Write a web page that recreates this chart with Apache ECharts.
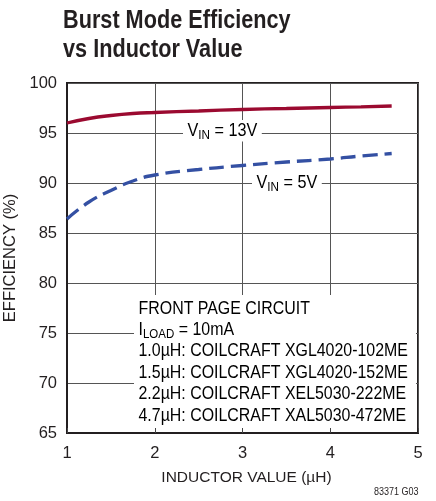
<!DOCTYPE html>
<html>
<head>
<meta charset="utf-8">
<script src="https://cdn.jsdelivr.net/npm/echarts@6/dist/echarts.min.js"></script>
<style>
  html, body { margin: 0; padding: 0; background: #fff; }
  #chart { width: 436px; height: 501px; }
</style>
</head>
<body>
<div id="chart"></div>
<script>
// inductor values (uH) and efficiency (%)
var xVals = [1.0, 1.25, 1.5, 1.75, 2.0, 2.5, 3.0, 3.5, 4.0, 4.35, 4.7];
var eff13V = [96.0, 96.45, 96.75, 96.95, 97.05, 97.2, 97.35, 97.45, 97.55, 97.62, 97.7];
var eff5V = [86.4, 88.1, 89.25, 90.2, 90.8, 91.35, 91.75, 92.1, 92.4, 92.7, 92.95];

var noteLines = [
  'FRONT PAGE CIRCUIT',
  '{t|I}{s|LOAD}{t| = 10mA}',
  '1.0µH: COILCRAFT XGL4020-102ME',
  '1.5µH: COILCRAFT XGL4020-152ME',
  '2.2µH: COILCRAFT XEL5030-222ME',
  '4.7µH: COILCRAFT XAL5030-472ME'
];

// no narrow font installed, so text blocks get squeezed with scaleX
var FONT = '"Liberation Sans", Arial, sans-serif';
var INK = '#231f20';

function pairs(xs, ys) {
  var out = [];
  for (var i = 0; i < xs.length; i++) out.push([xs[i], ys[i]]);
  return out;
}

var chart = echarts.init(document.getElementById('chart'));

var richText = {
  t: { fontFamily: FONT, fontSize: 18, color: INK, lineHeight: 21.4 },
  s: { fontFamily: FONT, fontSize: 13, color: INK, lineHeight: 21.4, padding: [9, 0, 0, 0] }
};

var option = {
  animation: false,
  backgroundColor: '#fff',
  grid: {
    left: 67,
    right: 18,
    top: 83,
    bottom: 68,
    outerBoundsMode: 'none',
    containLabel: false,
    show: true,
    borderColor: INK,
    borderWidth: 2
  },
  xAxis: {
    type: 'value',
    min: 1,
    max: 5,
    interval: 1,
    name: 'INDUCTOR VALUE (µH)',
    nameLocation: 'middle',
    nameGap: 37,
    nameTextStyle: { fontFamily: FONT, fontSize: 15.5, color: INK, padding: [0, 0, 0, 8] },
    axisLine: { lineStyle: { color: INK, width: 2 } },
    axisTick: { show: true, inside: true, length: 5, lineStyle: { color: '#444' } },
    axisLabel: { fontFamily: FONT, fontSize: 16.5, color: INK, margin: 12 },
    splitLine: { show: true, lineStyle: { color: '#555', width: 1 } }
  },
  yAxis: {
    type: 'value',
    min: 65,
    max: 100,
    interval: 5,
    name: 'EFFICIENCY (%)',
    nameLocation: 'middle',
    nameGap: 44,
    nameRotate: 90,
    nameTextStyle: { fontFamily: FONT, fontSize: 16.5, color: INK },
    axisLine: { lineStyle: { color: INK, width: 2 } },
    axisTick: { show: false },
    axisLabel: { fontFamily: FONT, fontSize: 16.5, color: INK, margin: 10 },
    splitLine: { show: true, lineStyle: { color: '#555', width: 1 } }
  },
  series: [
    {
      name: 'VIN = 13V',
      type: 'line',
      data: pairs(xVals, eff13V),
      smooth: true,
      showSymbol: false,
      lineStyle: { color: '#9b0a30', width: 3.3 },
      z: 5
    },
    {
      name: 'VIN = 5V',
      type: 'line',
      data: pairs(xVals, eff5V),
      smooth: true,
      showSymbol: false,
      lineStyle: { color: '#3450a3', width: 3.3, type: [15, 7] },
      z: 5
    }
  ],
  graphic: [
    // title
    {
      type: 'text', x: 63, y: 6, scaleX: 0.85, z: 20,
      style: {
        text: 'Burst Mode Efficiency\nvs Inductor Value',
        fontFamily: FONT, fontWeight: 'bold', fontSize: 25.5, lineHeight: 29.5,
        fill: INK
      }
    },
    // curve labels, white background breaks the gridline
    {
      type: 'text', x: 183, y: 120, scaleX: 0.9, z: 10,
      style: {
        text: '{t|V}{s|IN}{t| = 13V}', rich: richText,
        backgroundColor: '#fff', padding: [0, 5, 0, 5]
      }
    },
    {
      type: 'text', x: 252, y: 172, scaleX: 0.9, z: 10,
      style: {
        text: '{t|V}{s|IN}{t| = 5V}', rich: richText,
        backgroundColor: '#fff', padding: [0, 5, 0, 5]
      }
    },
    // note box in the lower right
    {
      type: 'rect', z: 10,
      shape: { x: 134, y: 295, width: 282, height: 133 },
      style: { fill: '#fff' }
    },
    {
      type: 'text', x: 138.5, y: 298, scaleX: 0.885, z: 11,
      style: {
        text: noteLines.map(function (l) {
          return l.indexOf('{') === 0 ? l : '{t|' + l + '}';
        }).join('\n'),
        rich: richText
      }
    },
    {
      type: 'text', x: 374, y: 487, scaleX: 0.9, z: 11,
      style: { text: '83371 G03', fontFamily: FONT, fontSize: 10, fill: INK }
    }
  ]
};

chart.setOption(option);
</script>
</body>
</html>
